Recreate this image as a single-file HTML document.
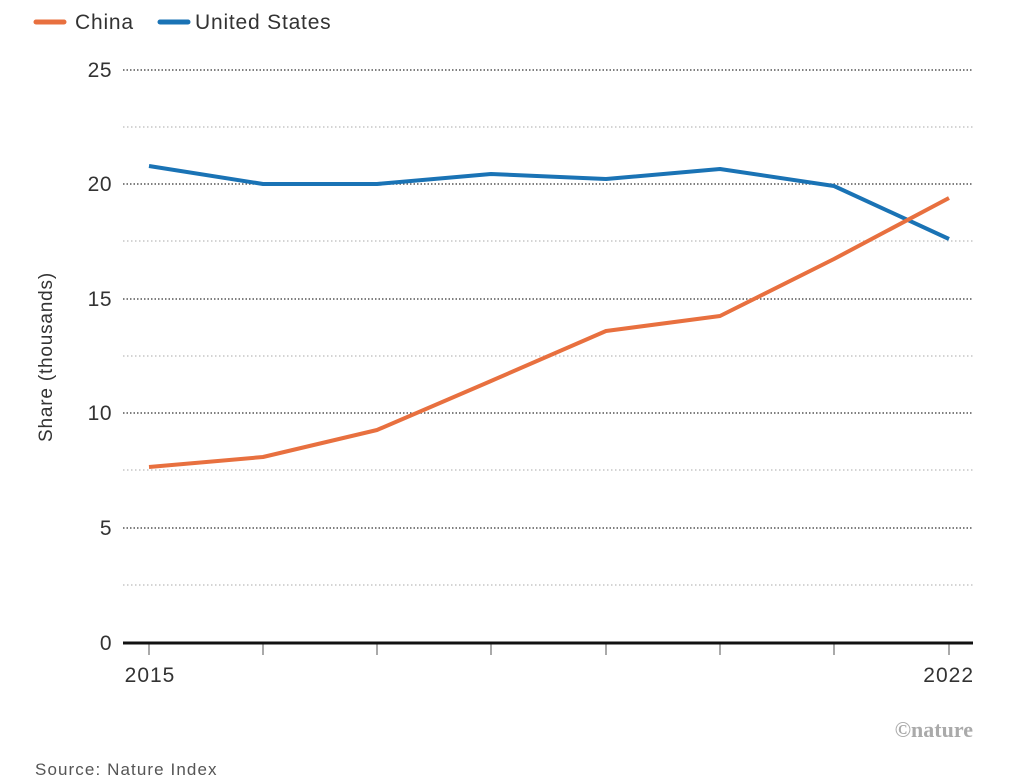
<!DOCTYPE html>
<html><head><meta charset="utf-8"><style>
html,body{margin:0;padding:0;background:#fff;width:1023px;height:781px;overflow:hidden}
text{font-family:"Liberation Sans",sans-serif}
</style></head><body>
<svg width="1023" height="781" viewBox="0 0 1023 781">
<g stroke-linecap="round">
<line x1="36" y1="22" x2="64" y2="22" stroke="#e8703f" stroke-width="5"/>
<line x1="160" y1="22" x2="188" y2="22" stroke="#1a73b5" stroke-width="5"/>
</g>
<text x="75" y="29" font-size="21" fill="#333" letter-spacing="0.8">China</text>
<text x="195" y="29" font-size="21" fill="#333" letter-spacing="0.8">United States</text>
<g stroke="#555" stroke-width="1.5" stroke-dasharray="1.5 2">
<line x1="123" y1="70" x2="973" y2="70"/>
<line x1="123" y1="184" x2="973" y2="184"/>
<line x1="123" y1="299" x2="973" y2="299"/>
<line x1="123" y1="413" x2="973" y2="413"/>
<line x1="123" y1="528" x2="973" y2="528"/>
</g>
<g stroke="#bbb" stroke-width="1.2" stroke-dasharray="1.5 2.5">
<line x1="123" y1="127" x2="973" y2="127"/>
<line x1="123" y1="241" x2="973" y2="241"/>
<line x1="123" y1="356" x2="973" y2="356"/>
<line x1="123" y1="470" x2="973" y2="470"/>
<line x1="123" y1="585" x2="973" y2="585"/>
</g>
<g font-size="21" fill="#333" text-anchor="end" letter-spacing="0.5">
<text x="112" y="77">25</text>
<text x="112" y="191">20</text>
<text x="112" y="306">15</text>
<text x="112" y="420">10</text>
<text x="112" y="535">5</text>
<text x="112" y="650">0</text>
</g>
<text transform="translate(52,357) rotate(-90)" font-size="19" fill="#333" text-anchor="middle" letter-spacing="0.8">Share (thousands)</text>
<g stroke="#aaa" stroke-width="2">
<line x1="149" y1="643" x2="149" y2="655"/><line x1="263" y1="643" x2="263" y2="655"/>
<line x1="377" y1="643" x2="377" y2="655"/><line x1="491" y1="643" x2="491" y2="655"/>
<line x1="606" y1="643" x2="606" y2="655"/><line x1="720" y1="643" x2="720" y2="655"/>
<line x1="834" y1="643" x2="834" y2="655"/><line x1="949" y1="643" x2="949" y2="655"/>
</g>
<line x1="123" y1="643" x2="973" y2="643" stroke="#111" stroke-width="3"/>
<text x="150" y="682" font-size="21" fill="#333" text-anchor="middle" letter-spacing="1">2015</text>
<text x="974" y="682" font-size="21" fill="#333" text-anchor="end" letter-spacing="1">2022</text>
<polyline fill="none" stroke="#1a73b5" stroke-width="4" stroke-linejoin="round" points="149,166 263,184 377,184 491,174 606,179 720,169 834,186 949,239"/>
<polyline fill="none" stroke="#e8703f" stroke-width="4" stroke-linejoin="round" points="149,467 263,457 377,430 491,381 606,331 720,316 834,259 949,198"/>
<text x="973" y="737" font-size="22" font-weight="bold" fill="#aaa" text-anchor="end" style="font-family:'Liberation Serif',serif">©nature</text>
<text x="35" y="775" font-size="17" fill="#555" letter-spacing="1.1">Source: Nature Index</text>
</svg>
</body></html>
